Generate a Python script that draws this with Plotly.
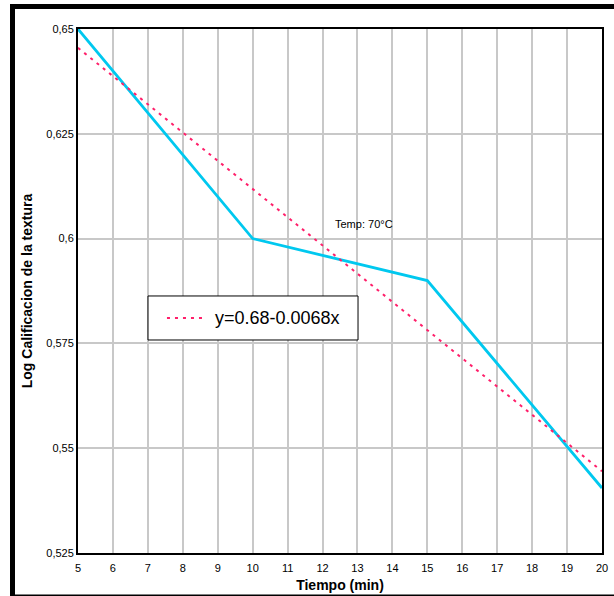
import plotly.graph_objects as go

# Data
tiempo = [5, 10, 15, 20]
log_calif = [0.65, 0.60, 0.59, 0.5405]
trend_x = [5, 20]
trend_y = [0.6455, 0.5445]
trend_name = "y=0.68-0.0068x"
x_ticks = list(range(5, 21))
y_ticks = [0.525, 0.55, 0.575, 0.6, 0.625, 0.65]
y_ticktext = ["0,525", "0,55", "0,575", "0,6", "0,625", "0,65"]
annot_text = "Temp: 70°C"

FONT = "Liberation Sans, Arial, sans-serif"
TREND_COLOR = "#ff1f6a"
TREND_DASH = "3px,5px"

fig = go.Figure()
fig.add_trace(go.Scatter(x=tiempo, y=log_calif, mode="lines",
                         line=dict(color="#00c8ef", width=2.8), showlegend=False))
fig.add_trace(go.Scatter(x=trend_x, y=trend_y, mode="lines", name=trend_name,
                         line=dict(color=TREND_COLOR, width=2, dash=TREND_DASH),
                         showlegend=False))

# legend box (drawn manually to match reference sizing)
shapes = [
    dict(type="rect", xref="paper", yref="paper",
         x0=0.1336, x1=0.5344, y0=0.4065, y1=0.4905,
         fillcolor="white", line=dict(color="black", width=1), layer="above"),
    dict(type="line", xref="paper", yref="paper",
         x0=0.1698, x1=0.2405, y0=0.4485, y1=0.4485,
         line=dict(color=TREND_COLOR, width=2, dash=TREND_DASH), layer="above"),
    dict(type="rect", xref="paper", yref="paper",
         x0=-0.125, x1=1.04, y0=-0.084, y1=1.0429,
         line=dict(color="black", width=5), layer="above"),
]

fig.update_layout(
    width=614, height=596,
    margin=dict(l=78, r=12, t=29, b=43),
    paper_bgcolor="white", plot_bgcolor="white",
    font=dict(family=FONT, color="black", size=11),
    showlegend=False,
    annotations=[
        dict(x=13.2, y=0.6035, xref="x", yref="y", text=annot_text,
             showarrow=False, font=dict(size=11, family=FONT)),
        dict(x=0.2576, y=0.4485, xref="paper", yref="paper", text=trend_name,
             xanchor="left", yanchor="middle", showarrow=False,
             font=dict(size=18, family=FONT)),
    ],
    shapes=shapes,
)
fig.update_xaxes(range=[5, 20], tickvals=x_ticks, showgrid=True, gridcolor="#c8c8c8",
                 gridwidth=1.5, showline=True, linecolor="black", linewidth=2, mirror=True,
                 zeroline=False, ticks="", tickfont=dict(size=11), automargin=False,
                 ticklabelstandoff=4,
                 title=dict(text="<b>Tiempo (min)</b>", font=dict(size=14), standoff=7))
fig.update_yaxes(range=[0.525, 0.65], tickvals=y_ticks, ticktext=y_ticktext,
                 showgrid=True, gridcolor="#c8c8c8", gridwidth=1.5,
                 showline=True, linecolor="black", linewidth=2, mirror=True,
                 zeroline=False, ticks="", tickfont=dict(size=11), automargin=False,
                 title=dict(text="<b>Log Calificacion de la textura</b>", font=dict(size=14), standoff=10))

fig.write_html("out.html", config={"displayModeBar": False},
               post_script="document.body.style.margin='0px';document.body.style.overflow='hidden';")
